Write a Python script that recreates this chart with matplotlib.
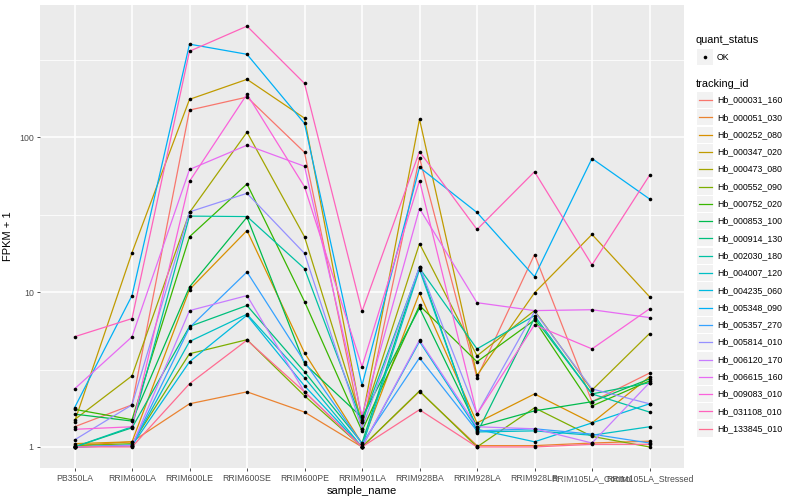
import matplotlib
matplotlib.use('Agg')
import matplotlib.pyplot as plt
from matplotlib.patches import Rectangle
from matplotlib.lines import Line2D

plt.rcParams['font.family'] = ['Liberation Sans', 'DejaVu Sans']

samples = ['PB350LA', 'RRIM600LA', 'RRIM600LE', 'RRIM600SE', 'RRIM600PE', 'RRIM901LA',
           'RRIM928BA', 'RRIM928LA', 'RRIM928LB', 'RRIM105LA_Control', 'RRIM105LA_Stressed']

tracking_ids = ['Hb_000031_160', 'Hb_000051_030', 'Hb_000252_080', 'Hb_000347_020',
                'Hb_000473_080', 'Hb_000552_090', 'Hb_000752_020', 'Hb_000853_100',
                'Hb_000914_130', 'Hb_002030_180', 'Hb_004007_120', 'Hb_004235_060',
                'Hb_005348_090', 'Hb_005357_270', 'Hb_005814_010', 'Hb_006120_170',
                'Hb_006615_160', 'Hb_009083_010', 'Hb_031108_010', 'Hb_133845_010']

# FPKM + 1 por gene, na ordem de samples
hb_000031_160 = [1.35, 1.87, 150, 182, 80, 1.3, 74, 2.8, 17.5, 1.96, 3.0]
hb_000051_030 = [1.02, 1.08, 1.9, 2.27, 1.68, 1.0, 2.28, 1.02, 1.02, 1.06, 1.09]
hb_000252_080 = [1.05, 1.08, 10.4, 25, 4.06, 1.05, 9.9, 1.43, 2.2, 1.43, 2.84]
hb_000347_020 = [1.45, 18, 176, 237, 133, 1.5, 131, 2.9, 9.9, 23.6, 9.35]
hb_000473_080 = [1.5, 2.88, 32.7, 108, 22.8, 1.45, 20.6, 3.88, 7.6, 2.33, 5.4]
hb_000552_090 = [1.02, 1.05, 4.0, 4.93, 2.14, 1.0, 2.3, 1.0, 1.79, 1.17, 1.0]
hb_000752_020 = [1.75, 1.5, 22.8, 50, 8.7, 1.27, 8.2, 3.55, 6.6, 1.84, 2.67]
hb_000853_100 = [1.63, 1.47, 10.8, 30.5, 3.45, 1.55, 7.9, 1.35, 1.71, 1.96, 2.75]
hb_000914_130 = [1.0, 1.33, 6.0, 8.2, 3.06, 1.06, 14.6, 1.23, 6.8, 2.2, 2.6]
hb_002030_180 = [1.0, 1.35, 31, 30.8, 14.2, 1.45, 14.3, 4.3, 7.05, 2.2, 1.68]
hb_004007_120 = [1.0, 1.03, 4.8, 7.2, 2.8, 1.0, 14.0, 1.25, 1.27, 1.19, 1.35]
hb_004235_060 = [1.0, 1.02, 3.55, 7.1, 2.48, 1.0, 4.8, 1.3, 1.08, 1.43, 1.9]
hb_005348_090 = [1.79, 9.5, 400, 344, 123, 2.5, 64, 32.7, 12.6, 73, 40]
hb_005357_270 = [1.0, 1.02, 5.9, 13.5, 3.55, 1.05, 3.76, 1.27, 1.31, 1.21, 1.06]
hb_005814_010 = [1.11, 1.87, 33, 43.5, 17.8, 1.31, 14.6, 1.63, 7.5, 2.37, 1.9]
hb_006120_170 = [1.0, 1.02, 7.6, 9.5, 2.27, 1.0, 4.9, 1.35, 1.31, 1.06, 2.6]
hb_006615_160 = [2.37, 5.15, 62, 89, 65, 1.59, 34.7, 8.55, 7.6, 7.7, 6.85]
hb_009083_010 = [1.3, 1.35, 52, 190, 48, 3.3, 52.6, 1.63, 6.15, 4.3, 7.8]
hb_031108_010 = [5.15, 6.75, 360, 523, 223, 7.5, 81, 25.4, 60, 15, 56.8]
hb_133845_010 = [1.0, 1.0, 2.56, 4.9, 2.27, 1.0, 1.74, 1.0, 1.0, 1.04, 1.04]

series = [hb_000031_160, hb_000051_030, hb_000252_080, hb_000347_020, hb_000473_080,
          hb_000552_090, hb_000752_020, hb_000853_100, hb_000914_130, hb_002030_180,
          hb_004007_120, hb_004235_060, hb_005348_090, hb_005357_270, hb_005814_010,
          hb_006120_170, hb_006615_160, hb_009083_010, hb_031108_010, hb_133845_010]

# paleta hue do ggplot para 20 níveis
colors = ['#F8766D', '#EA8331', '#D89000', '#C09B00', '#A3A500', '#7CAE00', '#39B600',
          '#00BB4E', '#00BF7D', '#00C1A3', '#00BFC4', '#00BAE0', '#00B0F6', '#35A2FF',
          '#9590FF', '#C77CFF', '#E76BF3', '#FA62DB', '#FF62BC', '#FF6C91']

W, H = 800, 500
fig = plt.figure(figsize=(8, 5), dpi=100)
ax = fig.add_axes([40 / W, 1 - 468 / H, 644 / W, 463 / H])
ax.set_facecolor('#EBEBEB')

x = list(range(len(samples)))
for vals, c in zip(series, colors):
    ax.plot(x, vals, color=c, lw=0.9, zorder=3)
for vals in series:
    ax.plot(x, vals, 'o', color='black', ms=2.6, zorder=4, markeredgewidth=0)

ax.set_yscale('log')
ax.set_ylim(10 ** -0.136, 10 ** 2.855)
ax.set_xlim(-0.6, 10.6)
ax.set_yticks([1, 10, 100])
ax.set_yticklabels(['1', '10', '100'])
ax.set_yticks([10 ** 0.5, 10 ** 1.5, 10 ** 2.5], minor=True)
ax.yaxis.set_minor_formatter(plt.NullFormatter())
ax.set_xticks(x)
ax.set_xticklabels(samples)
ax.grid(True, which='major', color='white', lw=1.1, zorder=1)
ax.grid(True, which='minor', axis='y', color='white', lw=0.55, zorder=1)
ax.tick_params(which='major', length=2.5, width=0.6, color='#333333',
               labelsize=6.3, labelcolor='#4D4D4D', pad=2)
ax.tick_params(which='minor', length=0)
for s in ax.spines.values():
    s.set_visible(False)
ax.set_axisbelow(True)
ax.set_xlabel('sample_name', fontsize=8, labelpad=2)
ax.set_ylabel('FPKM + 1', fontsize=8, labelpad=4)

# legenda manual no estilo ggplot
def px(xp, yp):
    return xp / W, 1 - yp / H

fig.text(*px(696, 40), 'quant_status', fontsize=7.9, va='center', ha='left')
fig.add_artist(Rectangle(px(697, 65), 16 / W, 16 / H, transform=fig.transFigure,
                         facecolor='#F2F2F2', edgecolor='none'))
fig.add_artist(Line2D([705 / W], [1 - 57 / H], transform=fig.transFigure,
                      marker='o', color='black', ms=2.6, markeredgewidth=0))
fig.text(*px(717, 57), 'OK', fontsize=6.3, va='center', ha='left')

fig.text(*px(696, 84), 'tracking_id', fontsize=7.9, va='center', ha='left')
for i, (name, c) in enumerate(zip(tracking_ids, colors)):
    yc = 100 + i * 17.3
    fig.add_artist(Rectangle(px(697, yc + 8), 16 / W, 16 / H, transform=fig.transFigure,
                             facecolor='#F2F2F2', edgecolor='none'))
    fig.add_artist(Line2D([698.5 / W, 711.5 / W], [1 - yc / H, 1 - yc / H],
                          transform=fig.transFigure, color=c, lw=0.9))
    fig.text(*px(717, yc), name, fontsize=6.3, va='center', ha='left')

fig.savefig('out.png', dpi=100)
